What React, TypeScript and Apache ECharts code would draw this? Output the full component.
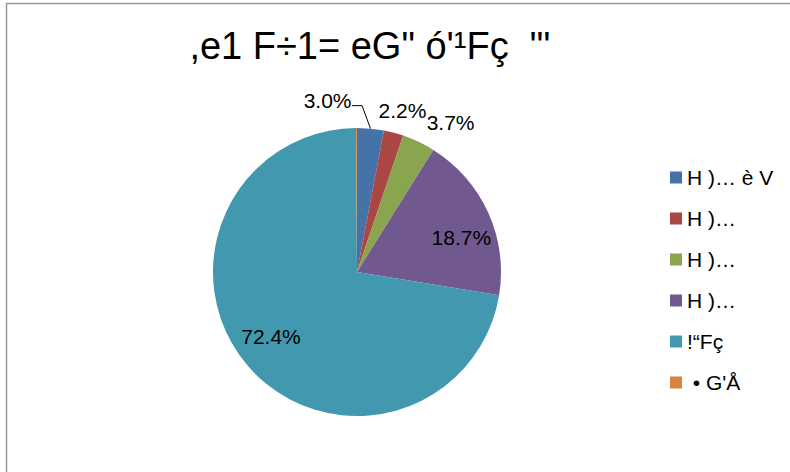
import React, { useEffect, useRef } from "react";
import * as echarts from "echarts";

const titleText = ",e1 F÷1= eG\" ó'¹Fç  \"'";
const categories = ["H )… è V", "H )…", "H )…", "H )…", "!“Fç", " • G'Å"];
const values = [3.0, 2.2, 3.7, 18.7, 72.4, 0.1];
const colors = ["#4572A7", "#AA4643", "#89A54E", "#71588F", "#4198AF", "#DB843D"];

const FONT = "'Liberation Sans', Arial, sans-serif";

export default function App() {
  const ref = useRef<HTMLDivElement>(null);
  useEffect(() => {
    const chart = echarts.init(ref.current!, null, { renderer: "svg" });
    const keys = categories.map((_, i) => `k${i}`);
    const labelCfg: any[] = [
      { show: true },
      { show: true, offset: [-26, 0] },
      { show: true, offset: [-6, 0] },
      { show: true, position: "inside", offset: [36, -4] },
      { show: true, position: "inside", offset: [-29, 16] },
      { show: false },
    ];
    const lineCfg: any[] = [
      { show: true, length: 10, length2: 10 },
      { show: false, length: 23, length2: 0 },
      { show: false, length: 21, length2: 0 },
      { show: false },
      { show: false },
      { show: false },
    ];
    chart.setOption({
      animation: false,
      backgroundColor: "#ffffff",
      color: colors,
      title: {
        text: titleText,
        left: 370,
        top: 26,
        padding: 0,
        textAlign: "center",
        textStyle: {
          fontFamily: FONT,
          fontSize: 38,
          fontWeight: "normal",
          color: "#000",
          lineHeight: 40,
        },
      },
      legend: {
        orient: "vertical",
        left: 670,
        top: 167,
        padding: 0,
        itemWidth: 12,
        itemHeight: 12,
        itemGap: 20,
        icon: "rect",
        data: keys,
        formatter: (name: string) => categories[keys.indexOf(name)],
        textStyle: { fontFamily: FONT, fontSize: 21, lineHeight: 20, color: "#000" },
      },
      graphic: [
        {
          type: "rect",
          silent: true,
          z: -1,
          shape: { x: 6.5, y: 3.5, width: 900, height: 600 },
          style: { fill: "none", stroke: "#999", lineWidth: 1.5 },
        },
      ],
      series: [
        {
          type: "pie",
          center: [357, 272],
          radius: 144,
          startAngle: 90,
          clockwise: true,
          avoidLabelOverlap: false,
          itemStyle: { borderWidth: 0 },
          label: {
            fontFamily: FONT,
            fontSize: 21,
            color: "#000",
            formatter: (p: any) => `${Number(p.value).toFixed(1)}%`,
          },
          labelLine: { lineStyle: { color: "#000", width: 1 } },
          labelLayout: (params: any) => {
            if (params.dataIndex !== 0 || !params.labelLinePoints) return {};
            const [x0, y0] = params.labelLinePoints[0];
            return {
              x: x0 - 19,
              y: y0 - 28,
              align: "right",
              verticalAlign: "middle",
              labelLinePoints: [
                [x0, y0],
                [x0 - 8.5, y0 - 23],
                [x0 - 18.5, y0 - 23],
              ],
            };
          },
          data: keys.map((k, i) => ({
            name: k,
            value: values[i],
            itemStyle: { color: colors[i] },
            label: labelCfg[i],
            labelLine: lineCfg[i],
          })),
        },
      ],
    });
    return () => chart.dispose();
  }, []);
  return (
    <div
      ref={ref}
      style={{ position: "fixed", left: 0, top: 0, width: 790, height: 472, background: "#fff" }}
    />
  );
}
